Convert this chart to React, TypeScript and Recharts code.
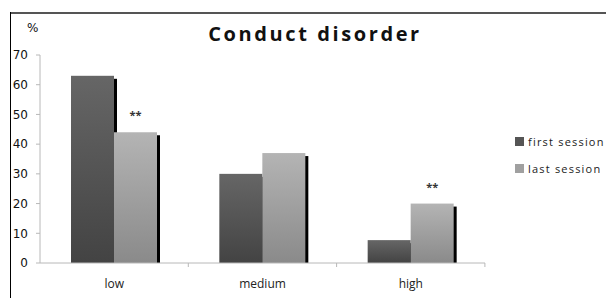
import React from 'react';
import { BarChart, Bar, XAxis, YAxis, LabelList } from 'recharts';

const categories = ['low', 'medium', 'high'];
const firstSession = [63, 30, 7.7];
const lastSession = [44, 37, 20];
const significance = ['**', '', '**'];
const yTicks = [0, 10, 20, 30, 40, 50, 60, 70];

const data = categories.map((name, i) => ({
  name,
  first: firstSession[i],
  last: lastSession[i],
  sig: significance[i],
}));

const gradients: Record<string, [string, string]> = {
  first: ['#666666', '#434343'],
  last: ['#b4b4b4', '#8a8a8a'],
};

const makeShape = (key: string) => (props: any) => {
  const { x, y, width, height, index } = props;
  if (!height || height <= 0) return null;
  const id = `grad-${key}-${index}`;
  const [top, bottom] = gradients[key];
  return (
    <g>
      <defs>
        <linearGradient id={id} x1="0" y1="0" x2="0" y2="1">
          <stop offset="0%" stopColor={top} />
          <stop offset="100%" stopColor={bottom} />
        </linearGradient>
      </defs>
      <rect x={x + 3} y={y + 3} width={width} height={height - 3} fill="#000" />
      <rect x={x} y={y} width={width} height={height} fill={`url(#${id})`} />
    </g>
  );
};

const legendItems = [
  { label: 'first session', color: '#555555' },
  { label: 'last session', color: '#a0a0a0' },
];

const App: React.FC = () => {
  return (
    <div style={{ position: 'absolute', left: 0, top: 0, width: 606, height: 298, background: '#fff', fontFamily: '"Open Sans", sans-serif' }}>
      {/* frame */}
      <div style={{ position: 'absolute', left: 10, top: 12, width: 596, height: 2, background: '#555' }} />
      <div style={{ position: 'absolute', left: 10, top: 12, width: 1, height: 286, background: '#000' }} />
      <div style={{ position: 'absolute', left: 0, top: 20, width: 606, textAlign: 'center', paddingLeft: 24, boxSizing: 'border-box', fontSize: 20, fontWeight: 700, letterSpacing: 2.6, color: '#111', fontFamily: '"Open Sans", sans-serif' }}>
        Conduct disorder
      </div>
      <div style={{ position: 'absolute', left: 27, top: 21, fontSize: 12, color: '#111', fontFamily: '"DejaVu Sans", sans-serif' }}>%</div>
      <BarChart
        width={606}
        height={298}
        data={data}
        margin={{ top: 55, right: 121, left: 10, bottom: 2 }}
        barCategoryGap="21%"
        barGap={0}
      >
        <YAxis
          domain={[0, 70]}
          ticks={yTicks}
          width={30}
          tickSize={4}
          tickMargin={8}
          axisLine={{ stroke: '#b8b8b8' }}
          tickLine={{ stroke: '#b8b8b8' }}
          tick={{ fontSize: 12, fill: '#111', fontFamily: '"DejaVu Sans", sans-serif' }}
        />
        <XAxis
          dataKey="name"
          height={33}
          tickSize={0}
          tickMargin={16}
          axisLine={{ stroke: '#b8b8b8' }}
          tickLine={false}
          tick={{ fontSize: 12, fill: '#222', fontFamily: '"Open Sans", sans-serif' }}
        />
        <Bar dataKey="first" barSize={43} isAnimationActive={false} shape={makeShape('first')} />
        <Bar dataKey="last" barSize={43} isAnimationActive={false} shape={makeShape('last')}>
          <LabelList dataKey="sig" position="top" offset={13} style={{ fontSize: 11, fontWeight: 700, fill: '#333' }} />
        </Bar>
      </BarChart>
      {/* category separators on the x axis */}
      <svg style={{ position: 'absolute', left: 0, top: 0 }} width={606} height={298} pointerEvents="none">
        {[1, 2, 3].map((i) => (
          <line key={i} x1={40 + i * 148.3} x2={40 + i * 148.3} y1={263} y2={267} stroke="#b8b8b8" />
        ))}
      </svg>
      <div style={{ position: 'absolute', left: 515, top: 128, fontSize: 11, color: '#222', letterSpacing: 1.2, whiteSpace: 'nowrap' }}>
        {legendItems.map((it) => (
          <div key={it.label} style={{ display: 'flex', alignItems: 'center', height: 27 }}>
            <span style={{ width: 9, height: 9, background: it.color, marginRight: 4, display: 'inline-block' }} />
            {it.label}
          </div>
        ))}
      </div>
    </div>
  );
};

export default App;
